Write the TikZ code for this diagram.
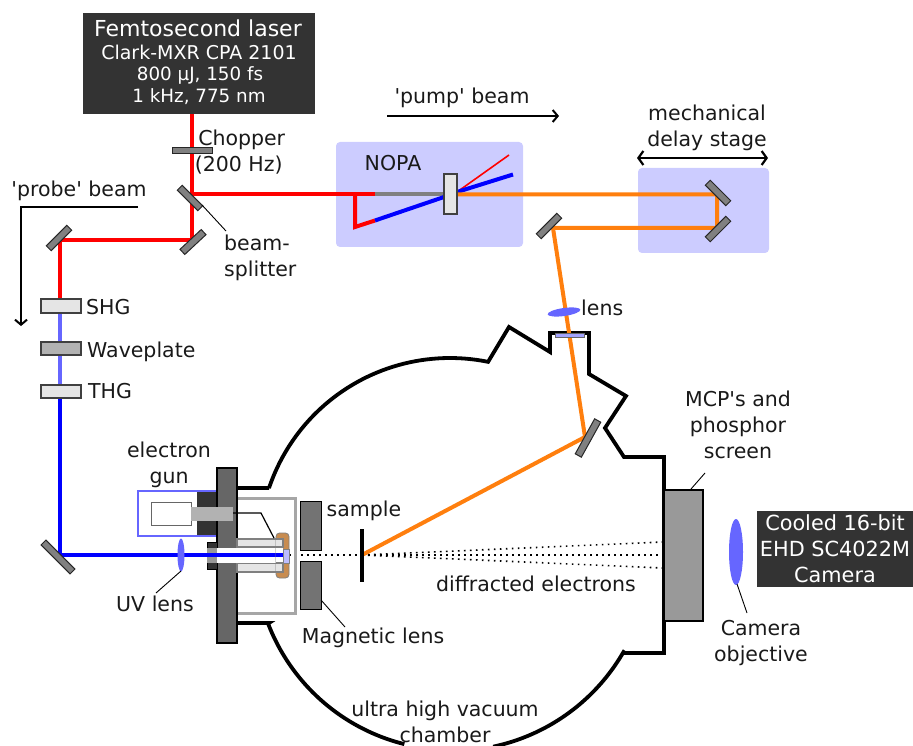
\documentclass[tikz,border=0pt]{standalone}
\usepackage{fontspec}
\newfontfamily\mainf{DejaVu Sans}
\setmainfont{DejaVu Sans}
\usetikzlibrary{arrows.meta,shapes.geometric}
\definecolor{rd}{RGB}{255,0,0}
\definecolor{bl}{RGB}{0,0,255}
\definecolor{og}{RGB}{255,127,14}
\definecolor{lilac}{RGB}{204,204,255}
\definecolor{uvc}{RGB}{102,102,255}
\definecolor{dark}{RGB}{51,51,51}
\definecolor{mid}{RGB}{102,102,102}
\definecolor{brass}{RGB}{200,140,80}
\tikzset{
 x=1pt,y=-1pt,
 txt/.style={inner sep=0pt,font=\mainf\fontsize{20.5}{26}\selectfont,align=center,text=black!90},
 dbox/.style={fill=dark,inner sep=0pt},
 wtxt/.style={inner sep=0pt,text=white,align=center},
 beam/.style={line width=4pt,line join=miter},
 mir/.style={draw=black!85,fill=black!50,line width=1pt,inner sep=0pt,minimum height=7pt},
 opt/.style={draw=black!75,fill=black!10,line width=1.2pt,inner sep=0pt},
 wall/.style={draw=black,line width=3.8pt,line join=miter},
 lead/.style={draw=black,line width=.9pt},
 stage/.style={fill=lilac,rounded corners=4pt},
 ray/.style={draw=black,line width=1.6pt,dash pattern=on 1.6pt off 4.4pt},
 arw/.style={draw=black,line width=2pt,-{Straight Barb[length=5pt,width=12pt,line width=2pt]}},
 arwb/.style={draw=black,line width=2.2pt,{Straight Barb[length=5pt,width=14pt,line width=2.2pt]}-{Straight Barb[length=5pt,width=14pt,line width=2.2pt]}},
 blk/.style={draw=black,line width=1.2pt,fill=mid},
 lensb/.style={ellipse,fill=uvc,inner sep=0pt},
}
\begin{document}
\begin{tikzpicture}
\useasboundingbox (0,0) rectangle (913,746);
% stages
\fill[stage] (336,142) rectangle (523,247);
\fill[stage] (638,168) rectangle (769,253);
% chamber
\draw[wall] (237,488) -- (269,488) -- plot[domain=-161.4:-78.5,samples=50] ({450+191*cos(\x)},{549+191*sin(\x)}) -- (509,327) -- (550,352) -- (550,333) -- (589,333) -- (589,374) -- (626,396) -- (605,428) -- (624,457) -- (664,457) -- (664,653) -- (625,653) -- plot[domain=30:78,samples=40] ({452+198*cos(\x)},{553+198*sin(\x)});
\draw[wall] (237,623) -- (269,623) -- plot[domain=159:104,samples=40] ({452+197*cos(\x)},{553+197*sin(\x)});
% coordinates of the beams
\coordinate (las) at (191.5,110);
\coordinate (bs) at (191.5,194);
\coordinate (m2) at (191.5,240);
\coordinate (m3) at (60,240);
\coordinate (m4) at (60,555);
\coordinate (ncross) at (355,194);
\coordinate (npt) at (355,227);
\coordinate (blstart) at (375,220.5);
\coordinate (nsplit) at (375,194);
\coordinate (cryl) at (444,197);
\coordinate (cryr) at (457,192);
\coordinate (d1) at (717,194.5);
\coordinate (d2) at (717,228);
\coordinate (m5) at (553,228);
\coordinate (m6) at (585,437);
\coordinate (smp) at (362,555);
% probe arm
\draw[beam,rd] (las) -- (m2) -- (m3) -- (60,300);
\draw[beam,uvc] (60,300) -- (60,390);
\draw[beam,bl] (60,390) -- (m4) -- (283,555);
% pump arm
\draw[beam,rd] (bs) -- (nsplit);
\draw[beam,rd] (ncross) -- (npt) -- (blstart);
\draw[line width=4pt,black!50] (nsplit) -- (444,194);
\draw[beam,bl] (blstart) -- (cryl);
\draw[line width=1.6pt,rd] (cryr) -- (509,155);
\draw[beam,bl] (cryr) -- (513,174.5);
\draw[beam,og] (457,194.5) -- (d1) -- (d2) -- (m5) -- (m6) -- (smp);
% NOPA crystal
\node[opt,minimum width=13pt,minimum height=40pt] (crystal) at (450.5,194) {};
% mirrors
\node[mir,rotate=-45,minimum width=29pt] (mbs) at (190,198) {};
\node[mir,rotate=43,minimum width=29pt] (mtwo) at (193,242) {};
\node[mir,rotate=45,minimum width=29pt] (mthree) at (59,238) {};
\node[mir,rotate=-45,minimum width=41pt] (mfour) at (58,557) {};
\node[mir,rotate=-45,minimum width=29pt] (mda) at (718,193) {};
\node[mir,rotate=45,minimum width=29pt] (mdb) at (718,229) {};
\node[mir,rotate=45,minimum width=29pt] (mfive) at (549,226) {};
\node[mir,rotate=61,minimum width=40pt] (msix) at (588,438) {};
\node[mir,minimum width=40pt,minimum height=6pt] (chop) at (192,150.5) {};
% optics on probe arm
\node[opt,minimum width=40pt,minimum height=14pt] (shg) at (61,306) {};
\node[opt,fill=black!30,minimum width=40pt,minimum height=13pt] (wp) at (61,348.5) {};
\node[opt,minimum width=40pt,minimum height=13pt] (thg) at (61,391.5) {};
% pump lens and window
\node[lensb,rotate=8,minimum width=33pt,minimum height=8pt] (plens) at (564,312) {};
\draw[draw=black!60,fill=uvc!60,line width=1pt] (555,333) rectangle (584,337);
% rays
\draw[ray] (289,555) -- (smp);
\draw[ray] (smp) -- (663,542);
\draw[ray] (smp) -- (663,555);
\draw[ray] (smp) -- (663,568);
% sample
\draw[line width=3.2pt,black] (362,529) -- (362,582);
% gun
\draw[draw=black!35,line width=3pt] (237,498) -- (295,498) -- (295,613) -- (237,613);
\fill[draw=uvc,fill=white,line width=1.4pt] (138,491) rectangle (217,536);
\fill[dark] (197,492) rectangle (217,535);
\draw[blk,line width=1.4pt] (217,468) rectangle (237,643);
\draw[fill=white,draw=black!60,line width=1pt] (151,502) rectangle (191,525);
\fill[black!30] (191,507) rectangle (233,521);
\draw[fill=dark,draw=black,line width=.8pt] (207,542) rectangle (217,569);
\draw[fill=black!10,draw=black!50,line width=1.2pt] (237,539) rectangle (283,547);
\draw[fill=black!10,draw=black!50,line width=1.2pt] (237,563) rectangle (283,572);
\fill[white] (217,548) rectangle (283,563);
\fill[black!40] (207,548) rectangle (217,563);
\draw[beam,bl] (207,555) -- (283,555);
\draw[draw=black!50,fill=brass,line width=.8pt,rounded corners=3.5pt] (276,533) rectangle (289,578);
\fill[black!10] (276,540) rectangle (283,546);
\fill[black!10] (276,564) rectangle (283,571);
\draw[draw=black!50,line width=1.2pt] (276,539) -- (283,539) -- (283,547) -- (276,547);
\draw[draw=black!50,line width=1.2pt] (276,563) -- (283,563) -- (283,572) -- (276,572);
\fill[white] (276,548) rectangle (283,562.4);
\draw[fill=lilac!85!uvc,draw=black!50,line width=.8pt] (283,549) rectangle (289,563);
\draw[beam,bl] (276,555) -- (283,555);
\draw[draw=black,line width=1.2pt] (233,513) -- (261,513) -- (274,538);
\draw[blk,line width=1pt,fill=black!55] (300,501) rectangle (321,550);
\draw[blk,line width=1pt,fill=black!55] (300,561) rectangle (321,609);
\node[lensb,minimum width=7pt,minimum height=33pt] (uvl) at (181,555) {};
% detector
\draw[draw=black,fill=black!40,line width=1.8pt] (664,490) rectangle (703,621);
\node[lensb,minimum width=14pt,minimum height=66pt] (camlens) at (736,552) {};
% dark boxes
\fill[dbox] (83,13) rectangle (315,114);
\fill[dbox] (757,511) rectangle (913,587);
\node[wtxt,font=\mainf\fontsize{22}{26}\selectfont] (t1) at (198,28) {Femtosecond laser};
\node[wtxt,font=\mainf\fontsize{19}{22}\selectfont] (t2) at (199,52) {Clark-MXR CPA 2101};
\node[wtxt,font=\mainf\fontsize{18.3}{22}\selectfont] (t3) at (200,75) {800 µJ, 150 fs};
\node[wtxt,font=\mainf\fontsize{18.3}{22}\selectfont] (t4) at (199,96.5) {1 kHz, 775 nm};
\node[wtxt,font=\mainf\fontsize{20.8}{26}\selectfont] (t5) at (835,549) {Cooled 16-bit\\EHD SC4022M\\Camera};
% arrows
\coordinate (pa) at (387,116); \coordinate (pb) at (559,116);
\draw[arw] (pa) -- (pb);
\coordinate (qa) at (138,207); \coordinate (qb) at (21,207); \coordinate (qc) at (21,326);
\draw[arw,line join=miter] (qa) -- (qb) -- (qc);
\coordinate (da) at (637,158); \coordinate (db) at (768,158);
\draw[arwb] (da) -- (db);
% leaders
\coordinate (l1) at (202,205); \coordinate (l2) at (226,231);
\draw[lead] (l1) -- (l2);
\coordinate (l3) at (181,571); \coordinate (l4) at (156,593);
\draw[lead] (l3) -- (l4);
\coordinate (l5) at (321,600); \coordinate (l6) at (345,627);
\draw[lead] (l5) -- (l6);
\coordinate (l7) at (691,489); \coordinate (l8) at (705,473);
\draw[lead] (l7) -- (l8);
\coordinate (l9) at (737,584); \coordinate (l10) at (747,613);
\draw[lead] (l9) -- (l10);
% labels
\node[txt] (a1) at (462,98) {'pump' beam};
\node[txt,align=left] (a2) at (240,152) {\,Chopper\\(200 Hz)};
\node[txt] (a3) at (79,191) {'probe' beam};
\node[txt,anchor=west,align=left] (a4) at (224,258) {beam-\\splitter};
\node[txt] (a5) at (393,163) {NOPA};
\node[txt] (a6) at (707,128) {mechanical\\delay stage};
\node[txt,anchor=west] (a7) at (581,308) {lens};
\node[txt,anchor=west] (a8) at (86,307) {SHG};
\node[txt,anchor=west] (a9) at (87,352) {Waveplate};
\node[txt,anchor=west] (a10) at (88,391) {THG};
\node[txt] (a11) at (738,425) {MCP's and\\phosphor\\screen};
\node[txt] (a12) at (169,465) {electron\\gun};
\node[txt] (a13) at (364,511) {sample};
\node[txt] (a14) at (155,604) {UV lens};
\node[txt] (a15) at (373,638) {Magnetic lens};
\node[txt] (a16) at (536,584) {diffracted electrons};
\node[txt] (a17) at (445,722) {ultra high vacuum\\chamber};
\node[txt] (a18) at (761,643) {Camera\\objective};
\end{tikzpicture}
\end{document}
